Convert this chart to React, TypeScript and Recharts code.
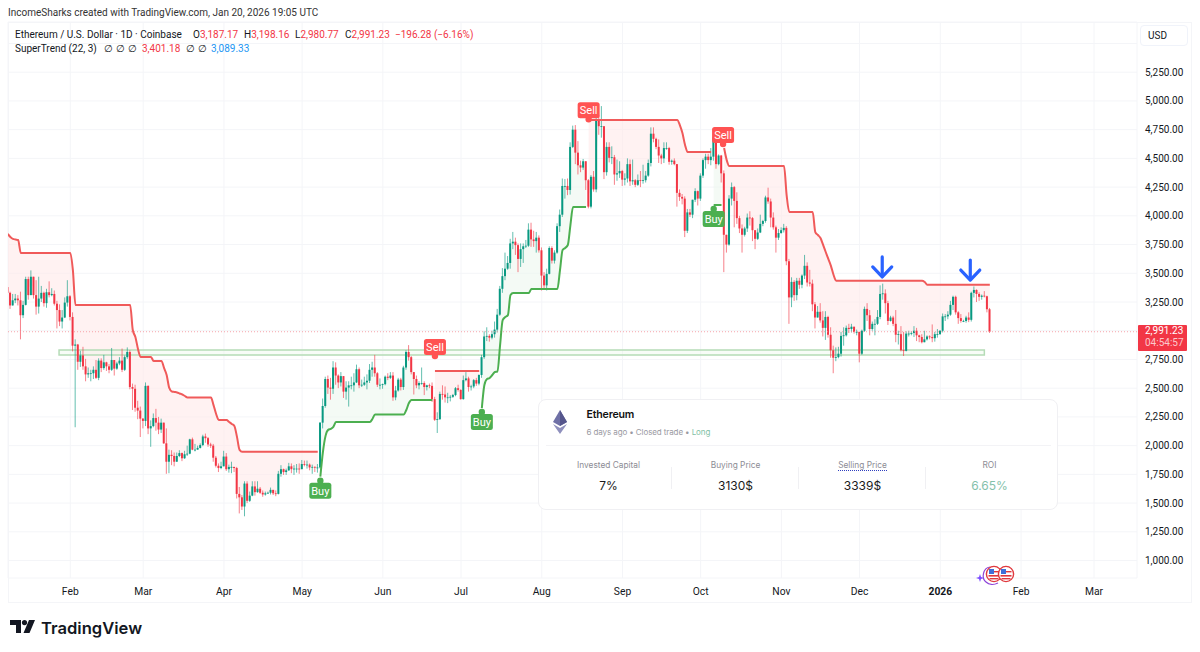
import { Area, Bar, CartesianGrid, ComposedChart, Line, ReferenceArea, ReferenceDot, ReferenceLine, XAxis, YAxis } from "recharts"

// day number counted from Jan 1 2025, first candle is Jan 8
const firstDay = 7
const firstOpen = 3380

const closes = [
  3330, 3220, 3265, 3280, 3265, 3135, 3225, 3450, 3310, 3470, 3310, 3210, 3280, 3330, 3240, 3335, 3310, 3320, 3235, 3180, 3080, 3115, 3245, 3300,
  3120, 2870, 2880, 2730, 2785, 2690, 2620, 2630, 2630, 2660, 2590, 2740, 2675, 2725, 2690, 2660, 2745, 2670, 2715, 2740, 2660, 2770, 2815, 2510, 2495, 2330, 2305, 2235,
  2215, 2520, 2150, 2170, 2240, 2200, 2140, 2200, 2020, 1860, 1920, 1910, 1860, 1910, 1935, 1890, 1925, 1930, 2055, 1965, 1965, 1980, 2005, 2080, 2065, 2010, 2000, 1895, 1825, 1805, 1820,
  1905, 1795, 1815, 1815, 1805, 1580, 1550, 1470, 1670, 1520, 1565, 1645, 1595, 1625, 1590, 1575, 1585, 1590, 1615, 1585, 1580, 1755, 1795, 1770, 1785, 1820, 1795, 1800, 1800, 1795,
  1840, 1835, 1835, 1810, 1815, 1810, 1810, 2200, 2345, 2580, 2505, 2495, 2680, 2610, 2550, 2605, 2470, 2505, 2525, 2525, 2550, 2665, 2525, 2530, 2550, 2565, 2660, 2680, 2630, 2530, 2530,
  2535, 2600, 2590, 2610, 2420, 2480, 2575, 2510, 2680, 2815, 2770, 2640, 2580, 2525, 2545, 2545, 2510, 2525, 2520, 2405, 2225, 2230, 2450, 2445, 2420, 2420, 2425, 2440, 2500, 2485,
  2405, 2570, 2585, 2510, 2515, 2570, 2540, 2615, 2770, 2950, 2955, 2940, 2970, 3010, 3140, 3365, 3475, 3540, 3590, 3760, 3775, 3745, 3625, 3710, 3735, 3740, 3880, 3795, 3780, 3810, 3700,
  3480, 3395, 3495, 3720, 3610, 3680, 3910, 4010, 4260, 4260, 4225, 4600, 4750, 4550, 4440, 4420, 4475, 4310, 4080, 4340, 4230, 4830, 4780, 4780, 4380, 4600, 4505, 4510, 4360, 4370, 4390,
  4315, 4325, 4450, 4300, 4310, 4270, 4310, 4305, 4310, 4350, 4460, 4715, 4670, 4600, 4525, 4500, 4590, 4590, 4470, 4480, 4450, 4200, 4165, 4150, 3870, 4030, 4010, 4140, 4215, 4150,
  4350, 4485, 4515, 4485, 4515, 4685, 4450, 4525, 4370, 3835, 3750, 4150, 4250, 4130, 3980, 3890, 3835, 3890, 3985, 3980, 3875, 3800, 3855, 3930, 3955, 4160, 4125, 3985, 3900, 3810, 3850,
  3875, 3895, 3605, 3290, 3425, 3310, 3435, 3400, 3480, 3565, 3420, 3410, 3230, 3115, 3165, 3090, 3025, 3120, 2965, 2830, 2765, 2770, 2800, 2955, 2960, 3025, 3015, 3035, 2990, 2990,
  2800, 3000, 3190, 3135, 3015, 3060, 3060, 3120, 3320, 3325, 3240, 3085, 3115, 3060, 2965, 2970, 2830, 2825, 2975, 2975, 2980, 3000, 2960, 2945, 2900, 2925, 2950, 2945, 2935, 2970, 2970,
  3000, 3125, 3125, 3140, 3225, 3295, 3160, 3110, 3085, 3085, 3115, 3095, 3330, 3355, 3320, 3295, 3305, 3300, 3187, 2991.23,
]

const highs = [
  3420, 3340, 3320, 3320, 3310, 3340, 3260, 3470, 3470, 3525, 3450, 3440, 3470, 3390, 3340, 3365, 3430, 3370, 3350, 3260, 3230, 3180, 3290, 3440,
  3310, 3160, 2925, 2885, 2825, 2860, 2755, 2680, 2660, 2690, 2745, 2760, 2760, 2790, 2730, 2710, 2850, 2740, 2730, 2770, 2845, 2785, 2855, 2830, 2540, 2530, 2390, 2340,
  2240, 2550, 2525, 2220, 2280, 2320, 2250, 2235, 2150, 2150, 1965, 1960, 1940, 1940, 1960, 1940, 1955, 2000, 2060, 2070, 2015, 2000, 2020, 2095, 2105, 2075, 2025, 2015, 1910, 1845, 1860,
  1955, 1935, 1835, 1860, 1815, 1815, 1640, 1570, 1690, 1690, 1600, 1690, 1690, 1690, 1640, 1610, 1600, 1600, 1635, 1615, 1610, 1780, 1830, 1800, 1800, 1850, 1845, 1830, 1840, 1845,
  1875, 1870, 1870, 1845, 1835, 1820, 1840, 2205, 2410, 2600, 2610, 2590, 2735, 2725, 2620, 2640, 2605, 2560, 2560, 2600, 2630, 2705, 2680, 2575, 2600, 2620, 2710, 2730, 2790, 2640, 2585,
  2540, 2610, 2630, 2640, 2640, 2520, 2590, 2590, 2695, 2830, 2875, 2780, 2620, 2610, 2560, 2680, 2560, 2530, 2540, 2550, 2425, 2290, 2470, 2525, 2515, 2460, 2440, 2450, 2510, 2530,
  2490, 2610, 2640, 2600, 2530, 2580, 2590, 2620, 2790, 2995, 3030, 2970, 3000, 3080, 3190, 3390, 3545, 3680, 3650, 3800, 3860, 3810, 3760, 3760, 3760, 3790, 3935, 3940, 3870, 3860, 3830,
  3725, 3510, 3540, 3735, 3735, 3700, 3935, 4055, 4325, 4320, 4325, 4640, 4785, 4790, 4650, 4480, 4495, 4475, 4320, 4355, 4390, 4885, 4880, 4955, 4770, 4640, 4640, 4605, 4530, 4490, 4475,
  4400, 4370, 4500, 4490, 4490, 4320, 4360, 4390, 4445, 4390, 4490, 4770, 4770, 4680, 4665, 4540, 4640, 4640, 4600, 4490, 4500, 4450, 4230, 4190, 4170, 4060, 4060, 4140, 4240, 4220,
  4370, 4500, 4540, 4540, 4590, 4755, 4720, 4535, 4530, 4395, 3830, 4180, 4290, 4260, 4205, 4000, 3925, 3905, 4020, 4040, 3990, 3875, 3890, 4010, 3965, 4175, 4245, 4150, 4030, 3915, 3885,
  3900, 3930, 3910, 3625, 3465, 3440, 3460, 3460, 3490, 3660, 3595, 3530, 3445, 3250, 3215, 3240, 3170, 3170, 3130, 3030, 2870, 2855, 2860, 2990, 3030, 3045, 3060, 3060, 3035, 3010,
  2990, 3010, 3210, 3240, 3180, 3080, 3100, 3180, 3395, 3410, 3360, 3260, 3130, 3130, 3180, 3000, 3040, 2990, 2995, 3000, 2995, 3040, 3025, 2965, 2970, 3000, 2960, 2960, 3055, 2990, 3015,
  3005, 3150, 3145, 3170, 3260, 3305, 3305, 3170, 3145, 3095, 3130, 3160, 3340, 3385, 3360, 3335, 3315, 3345, 3305, 3198.16,
]

const lows = [
  3210, 3190, 3220, 3240, 3220, 2925, 3110, 3220, 3270, 3310, 3280, 3140, 3150, 3250, 3210, 3200, 3290, 3300, 3220, 3020, 3040, 3020, 3110, 3210,
  3090, 2820, 2160, 2660, 2685, 2660, 2560, 2590, 2560, 2580, 2580, 2570, 2640, 2660, 2650, 2630, 2650, 2610, 2660, 2700, 2640, 2650, 2755, 2490, 2310, 2295, 2230, 2075,
  2150, 2170, 2100, 1990, 2160, 2130, 2100, 2110, 2015, 1755, 1760, 1830, 1820, 1860, 1900, 1865, 1885, 1910, 1925, 1960, 1950, 1965, 1975, 1995, 2025, 1990, 1980, 1860, 1810, 1770, 1795,
  1820, 1780, 1765, 1760, 1770, 1540, 1410, 1440, 1385, 1500, 1510, 1560, 1565, 1590, 1580, 1555, 1565, 1580, 1575, 1570, 1560, 1575, 1730, 1745, 1745, 1780, 1760, 1745, 1765, 1755,
  1820, 1820, 1800, 1785, 1755, 1770, 1765, 1800, 2150, 2330, 2450, 2400, 2450, 2530, 2500, 2515, 2415, 2400, 2340, 2490, 2470, 2545, 2500, 2510, 2520, 2490, 2545, 2600, 2600, 2510, 2490,
  2495, 2525, 2570, 2580, 2390, 2395, 2470, 2480, 2485, 2660, 2740, 2620, 2445, 2500, 2490, 2530, 2440, 2480, 2500, 2380, 2215, 2110, 2225, 2400, 2375, 2370, 2385, 2415, 2430, 2470,
  2400, 2400, 2560, 2470, 2480, 2500, 2520, 2525, 2590, 2755, 2910, 2905, 2925, 2940, 2985, 3130, 3330, 3440, 3530, 3540, 3710, 3660, 3510, 3555, 3590, 3720, 3730, 3730, 3730, 3680, 3680,
  3350, 3355, 3350, 3490, 3585, 3585, 3670, 3860, 3990, 4150, 4180, 4185, 4590, 4450, 4360, 4380, 4400, 4225, 4065, 4065, 4210, 4205, 4705, 4680, 4320, 4350, 4465, 4450, 4270, 4305, 4330,
  4260, 4265, 4290, 4260, 4270, 4250, 4260, 4250, 4280, 4290, 4340, 4430, 4640, 4580, 4460, 4450, 4460, 4575, 4445, 4445, 4440, 4080, 4130, 4100, 3815, 3850, 3990, 3980, 4120, 4090,
  4130, 4330, 4410, 4450, 4440, 4480, 4410, 4440, 4290, 3510, 3680, 3740, 4090, 3900, 3930, 3850, 3680, 3820, 3860, 3915, 3780, 3710, 3790, 3850, 3910, 3940, 4105, 3900, 3880, 3680, 3790,
  3845, 3855, 3570, 3060, 3205, 3260, 3265, 3365, 3370, 3450, 3385, 3385, 3170, 3020, 3130, 3070, 2950, 2920, 2940, 2765, 2630, 2735, 2760, 2775, 2870, 2950, 2980, 2985, 2975, 2960,
  2725, 2790, 2990, 3085, 2960, 3000, 2960, 3050, 3100, 3270, 3150, 3050, 3080, 3040, 2900, 2880, 2820, 2780, 2820, 2950, 2960, 2945, 2910, 2900, 2890, 2900, 2915, 2925, 2900, 2905, 2940,
  2965, 2985, 3085, 3100, 3130, 3180, 3140, 3060, 3070, 3075, 3070, 3075, 3080, 3290, 3250, 3260, 3270, 3290, 3160, 2980.77,
]

const trendLine = [
  3842, 3816, 3799, 3794, 3790,
  3677, 3677, 3677, 3677, 3677, 3677, 3677, 3677, 3677, 3677,
  3677, 3677, 3677, 3677, 3677, 3677, 3677, 3677, 3677, 3677,
  3529,
  3224, 3224, 3224, 3224, 3224, 3224, 3224, 3224, 3224, 3224, 3224,
  3224, 3224, 3224, 3224, 3224, 3224, 3224, 3224, 3224, 3224, 3224,
  3006, 2946, 2841, 2771, 2771, 2771, 2771, 2771, 2737, 2737, 2737, 2737,
  2676, 2615, 2502, 2471, 2467, 2463, 2454, 2445, 2432,
  2419, 2419, 2419, 2419, 2419, 2419, 2419, 2419, 2419, 2419,
  2353, 2275, 2223, 2223, 2223, 2223, 2206, 2189, 2171, 2076, 1963,
  1946, 1946, 1946, 1946, 1946, 1946, 1946, 1946, 1946, 1946,
  1946, 1946, 1946, 1946, 1946, 1946, 1946, 1946, 1946, 1946,
  1946, 1946, 1946, 1946, 1946, 1946, 1946, 1946, 1946, 1946,
  1730, 1946, 2085, 2137, 2146, 2163,
  2206, 2206, 2206, 2206, 2206, 2206, 2206, 2206, 2206, 2206, 2206, 2206, 2206, 2206,
  2232,
  2271, 2271, 2271, 2271, 2271, 2271, 2271, 2271, 2271, 2271, 2271, 2271,
  2310, 2371,
  2398, 2398, 2398, 2398, 2398, 2398, 2398, 2398, 2398,
  2650, 2650, 2650, 2650, 2650, 2650, 2650, 2650, 2650,
  2650, 2650, 2650, 2650, 2650, 2650, 2650, 2650, 2650,
  2327, 2530, 2580, 2589, 2615, 2641, 2645, 2875, 3093, 3119, 3136, 3311,
  3328, 3328, 3328, 3328, 3328, 3328, 3328,
  3363, 3363, 3363, 3363, 3363, 3363, 3363, 3363, 3363, 3363, 3363,
  3528, 3702, 3720, 3746, 3920,
  4077, 4077, 4077, 4077, 4077, 4077,
  4834, 4834, 4834, 4834, 4834, 4834, 4834, 4834, 4834, 4834,
  4834, 4834, 4834, 4834, 4834, 4834, 4834, 4834, 4834, 4834,
  4834, 4834, 4834, 4834, 4834, 4834, 4834, 4834, 4834, 4834,
  4834, 4834, 4834, 4834, 4834,
  4790, 4721, 4617,
  4555, 4555, 4555, 4555, 4555, 4555, 4555, 4555, 4555, 4555,
  4094, 4094, 4094, 4094,
  4590, 4485,
  4433, 4433, 4433, 4433, 4433, 4433, 4433, 4433, 4433, 4433, 4433,
  4433, 4433, 4433, 4433, 4433, 4433, 4433, 4433, 4433, 4433, 4433,
  4181,
  4034, 4034, 4034, 4034, 4034, 4034, 4034, 4034, 4034, 4034,
  3859, 3833, 3807, 3747, 3685, 3625, 3565, 3487,
  3435, 3435, 3435, 3435, 3435, 3435, 3435, 3435, 3435, 3435, 3435, 3435,
  3435, 3435, 3435, 3435, 3435, 3435, 3435, 3435, 3435, 3435, 3435, 3435,
  3435, 3435, 3435, 3435, 3435, 3435, 3435, 3435, 3435, 3435,
  3424,
  3401, 3401, 3401, 3401, 3401, 3401, 3401, 3401, 3401, 3401, 3401, 3401, 3401,
  3401, 3401, 3401, 3401, 3401, 3401, 3401, 3401, 3401, 3401, 3401, 3401.18,
]

// first and last day of each bullish supertrend stretch
const upRuns = [[127, 170], [189, 229], [278, 281]]

const priceTicks = [5500, 5250, 5000, 4750, 4500, 4250, 4000, 3750, 3500, 3250, 3000, 2750, 2500, 2250, 2000, 1750, 1500, 1250, 1000]
const hiddenPriceLabels = [5500, 3000]
const monthTicks = [31, 59, 90, 120, 151, 181, 212, 243, 273, 304, 334, 365, 396, 424]
const monthLabels = ["Feb", "Mar", "Apr", "May", "Jun", "Jul", "Aug", "Sep", "Oct", "Nov", "Dec", "2026", "Feb", "Mar"]

const signals = [
  { day: 127, price: 1730, kind: "Buy" },
  { day: 171, price: 2745, kind: "Sell" },
  { day: 189, price: 2327, kind: "Buy" },
  { day: 230, price: 4806, kind: "Sell" },
  { day: 278, price: 4094, kind: "Buy" },
  { day: 281.6, price: 4590, kind: "Sell" },
]
const arrowTips = [{ day: 342.7, price: 3468 }, { day: 376.5, price: 3441 }]

const cardStats = [
  { label: "Invested Capital", value: "7%", cx: 607.5 },
  { label: "Buying Price", value: "3130$", cx: 734.5 },
  { label: "Selling Price", value: "3339$", cx: 861.5 },
  { label: "ROI", value: "6.65%", cx: 988.5 },
]

const UP = "#089981"
const DOWN = "#f23645"
const RED_LINE = "#f05a5a"
const GREEN_LINE = "#4caf50"
const TV_FONT = "Roboto, sans-serif"

const rows = closes.map((close, i) => {
  const day = firstDay + i
  const open = i === 0 ? firstOpen : closes[i - 1]
  const high = Math.max(highs[i], open, close)
  const low = Math.min(lows[i], open, close)
  const mid = (open + close) / 2
  const trend = trendLine[i]
  const isUp = upRuns.some(([a, b]) => day >= a && day <= b)
  return {
    day,
    open,
    close,
    range: [low, high],
    stRed: isUp ? null : trend,
    stGreen: isUp ? trend : null,
    redBand: isUp ? [null, null] : [mid, trend],
    greenBand: isUp ? [trend, mid] : [null, null],
  }
})

function Candle(props: any) {
  const { x, y, width, height, payload } = props
  const [low, high] = payload.range
  const perPrice = height / Math.max(high - low, 1)
  const top = y + (high - Math.max(payload.open, payload.close)) * perPrice
  const bottom = y + (high - Math.min(payload.open, payload.close)) * perPrice
  const color = payload.close >= payload.open ? UP : DOWN
  const cx = x + width / 2
  return (
    <g>
      <line x1={cx} x2={cx} y1={y} y2={y + height} stroke={color} strokeOpacity={0.7} strokeWidth={0.9} />
      <rect x={cx - 1} width={2} y={top} height={Math.max(bottom - top, 0.8)} fill={color} />
    </g>
  )
}

function SignalPin(props: any) {
  const { cx, cy, kind } = props
  const sell = kind === "Sell"
  const color = sell ? "#ff5252" : "#4caf50"
  const rectY = sell ? cy - 21 : cy + 6
  return (
    <g>
      <circle cx={cx} cy={sell ? cy - 4 : cy + 4} r={3.2} fill={color} />
      <rect x={cx - 11} y={rectY} width={22} height={16} rx={2.5} fill={color} />
      <text x={cx} y={rectY + 12} textAnchor="middle" fontSize={11} fontFamily={TV_FONT} fill="#fff">{kind}</text>
    </g>
  )
}

function BlueArrow(props: any) {
  const { cx, cy } = props
  return (
    <g stroke="#2962ff" strokeWidth={3.2} fill="none" strokeLinecap="round" strokeLinejoin="round">
      <path d={`M${cx} ${cy - 20}V${cy - 1}`} />
      <path d={`M${cx - 9.5} ${cy - 10}L${cx} ${cy}L${cx + 9.5} ${cy - 10}`} />
    </g>
  )
}

function MonthTick(props: any) {
  const { x, payload } = props
  const label = monthLabels[monthTicks.indexOf(payload.value)]
  const bold = label === "2026"
  return (
    <text x={x} y={595} textAnchor="middle" fontSize={10.3} fontFamily={TV_FONT} fontWeight={bold ? 700 : 400} fill="#131722">
      {label}
    </text>
  )
}

function Label(props: any) {
  const { x, y, color, size, weight, family, spacing, children } = props
  return (
    <span style={{ position: "absolute", left: x, top: y, color: color ?? "#131722", fontSize: size ?? 10, fontWeight: weight ?? 400, fontFamily: family ?? TV_FONT, letterSpacing: spacing ?? 0, lineHeight: "14px", whiteSpace: "nowrap" }}>
      {children}
    </span>
  )
}

function TradeCard() {
  const inter = "Inter, sans-serif"
  return (
    <div style={{ position: "absolute", left: 537.5, top: 398.5, width: 520, height: 111, boxSizing: "border-box", background: "#fff", border: "1px solid #f0f0f3", borderRadius: 8 }}>
      <svg style={{ position: "absolute", left: 10, top: 8 }} width={24} height={28}>
        <polygon points="11,2 4,14 11,18 18,14" fill="#6f70a6" />
        <polygon points="11,2 11,18 18,14" fill="#55568c" />
        <polygon points="4,16 11,26 18,16 11,20" fill="#8f90bd" />
      </svg>
      <Label x={48} y={8} size={10.6} weight={600} spacing={-0.2} family={inter} color="#111">Ethereum</Label>
      <Label x={48} y={25} size={8} spacing={-0.1} family={inter} color="#9a9aa2">
        6 days ago • Closed trade • <span style={{ color: "#7fbfa5" }}>Long</span>
      </Label>
      <div style={{ position: "absolute", left: 7, right: 6, top: 45, height: 1, background: "#f3f3f6" }} />
      {[132.5, 259.5, 386.5].map((x) => (
        <div key={x} style={{ position: "absolute", left: x, top: 67, width: 1, height: 22, background: "#f0f0f3" }} />
      ))}
      {cardStats.map((s) => (
        <div key={s.label} style={{ position: "absolute", left: s.cx - 537.5 - 60, width: 120, top: 59, textAlign: "center", fontFamily: inter }}>
          <div style={{ fontSize: 8.3, lineHeight: "13px", color: "#8c8c94" }}>
            <span style={s.label === "Selling Price" ? { borderBottom: "1px dotted #2f3fbf" } : undefined}>{s.label}</span>
          </div>
          <div style={{ fontSize: 12, lineHeight: "18px", marginTop: 5, color: s.label === "ROI" ? "#84c1ab" : "#1a1a1a" }}>{s.value}</div>
        </div>
      ))}
    </div>
  )
}

function EventFlags() {
  return (
    <svg style={{ position: "absolute", left: 974, top: 562 }} width={44} height={26}>
      <path d="M16 5C9 6 7 16 12 20 15 23 20 23 24 21" fill="none" stroke="#8e44d8" strokeWidth={1.2} />
      <path d="M6 12L7 15L10 16L7 17L6 20L5 17L2 16L5 15Z" fill="#7c4dff" />
      {[20, 32].map((cx) => (
        <g key={cx}>
          <circle cx={cx} cy={12} r={7.6} fill="#fff" stroke="#e0393e" strokeWidth={1.4} />
          <rect x={cx - 5} y={7} width={5} height={5} fill="#3f6fd8" />
          <rect x={cx} y={9} width={5.5} height={1.4} fill="#e0393e" />
          <rect x={cx - 5.5} y={13} width={11} height={1.6} fill="#e0393e" />
          <rect x={cx - 4.5} y={16} width={9} height={1.4} fill="#e0393e" />
        </g>
      ))}
    </svg>
  )
}

function TvLogo() {
  return (
    <>
      <svg style={{ position: "absolute", left: 10, top: 620 }} width={26} height={14} viewBox="0 0 26 14">
        <path d="M0 0H11V13H6V5H0Z M19 0H25L19.5 13H13.5Z" fill="#131722" />
        <circle cx={14.5} cy={2.6} r={2.6} fill="#131722" />
      </svg>
      <Label x={41} y={621} size={16.6} weight={600} family="Inter, sans-serif" color="#131722">TradingView</Label>
    </>
  )
}

export default function App() {
  return (
    <div style={{ position: "absolute", left: 0, top: 0, width: 1200, height: 652, background: "#fff", overflow: "hidden" }}>
      <div style={{ position: "absolute", left: 8, top: 22, width: 1184, height: 581, boxSizing: "border-box", border: "1px solid #f4f5f8" }} />
      <ComposedChart width={1200} height={652} data={rows} margin={{ top: 22, right: 8, bottom: 49, left: 8 }} style={{ position: "absolute", left: 0, top: 0 }}>
        <CartesianGrid stroke="#f4f5f8" strokeWidth={1} />
        <XAxis
          dataKey="day"
          type="number"
          domain={[7.1, 440.5]}
          allowDataOverflow
          ticks={monthTicks}
          interval={0}
          height={25}
          axisLine={false}
          tickLine={false}
          tick={<MonthTick />}
        />
        <YAxis
          orientation="right"
          type="number"
          domain={[848, 5687]}
          allowDataOverflow
          ticks={priceTicks}
          interval={0}
          width={55}
          axisLine={false}
          tickLine={false}
          tickSize={0}
          tickMargin={8}
          tick={{ fontSize: 10, fill: "#131722", fontFamily: TV_FONT }}
          tickFormatter={(v: number) => (hiddenPriceLabels.includes(v) ? "" : v.toLocaleString("en-US", { minimumFractionDigits: 2 }))}
        />
        <Area dataKey="redBand" type="linear" stroke="none" fill="#ffeaea" isAnimationActive={false} dot={false} activeDot={false} />
        <Area dataKey="greenBand" type="linear" stroke="none" fill="#ecf6ee" isAnimationActive={false} dot={false} activeDot={false} />
        <ReferenceLine y={2991.23} stroke="#f58f96" strokeOpacity={0.8} strokeDasharray="1 2" />
        <Bar dataKey="range" barSize={2} isAnimationActive={false} shape={<Candle />} />
        <Line dataKey="stRed" type="monotone" stroke={RED_LINE} strokeWidth={2} dot={false} activeDot={false} isAnimationActive={false} />
        <Line dataKey="stGreen" type="monotone" stroke={GREEN_LINE} strokeWidth={2} dot={false} activeDot={false} isAnimationActive={false} />
        <ReferenceArea x1={26.7} x2={381.9} y1={2789} y2={2833} fill="#e8f5e9" fillOpacity={0.35} stroke="#b5dcb7" strokeWidth={1.5} />
        {signals.map((s) => (
          <ReferenceDot key={s.day} x={s.day} y={s.price} shape={<SignalPin kind={s.kind} />} />
        ))}
        {arrowTips.map((a) => (
          <ReferenceDot key={a.day} x={a.day} y={a.price} shape={<BlueArrow />} />
        ))}
      </ComposedChart>

      <Label x={8} y={6} color="#333">IncomeSharks created with TradingView.com, Jan 20, 2026 19:05 UTC</Label>
      <Label x={15} y={28}>Ethereum / U.S. Dollar · 1D · Coinbase</Label>
      <Label x={193} y={28}>O<span style={{ color: DOWN }}>3,187.17</span></Label>
      <Label x={244} y={28}>H<span style={{ color: DOWN }}>3,198.16</span></Label>
      <Label x={295} y={28}>L<span style={{ color: DOWN }}>2,980.77</span></Label>
      <Label x={345} y={28}>C<span style={{ color: DOWN }}>2,991.23</span></Label>
      <Label x={395} y={28} color={DOWN}>−196.28 (−6.16%)</Label>
      <Label x={15} y={42}>SuperTrend (22, 3)</Label>
      <Label x={104} y={42}>∅</Label>
      <Label x={116} y={42}>∅</Label>
      <Label x={128} y={42}>∅</Label>
      <Label x={142} y={42} color={DOWN}>3,401.18</Label>
      <Label x={186} y={42}>∅</Label>
      <Label x={198} y={42}>∅</Label>
      <Label x={211} y={42} color="#2196f3">3,089.33</Label>

      <div style={{ position: "absolute", left: 1140, top: 25, width: 48, height: 21, boxSizing: "border-box", border: "1px solid #f0f3fa", borderRadius: 4, background: "#fff" }} />
      <Label x={1148} y={29}>USD</Label>

      <div style={{ position: "absolute", left: 1138, top: 325, width: 49, height: 26, background: "#f23645", borderRadius: 1 }} />
      <Label x={1145} y={324} color="#fff">2,991.23</Label>
      <Label x={1145} y={336} color="#fbc8cc">04:54:57</Label>

      <TradeCard />
      <EventFlags />
      <TvLogo />
    </div>
  )
}
